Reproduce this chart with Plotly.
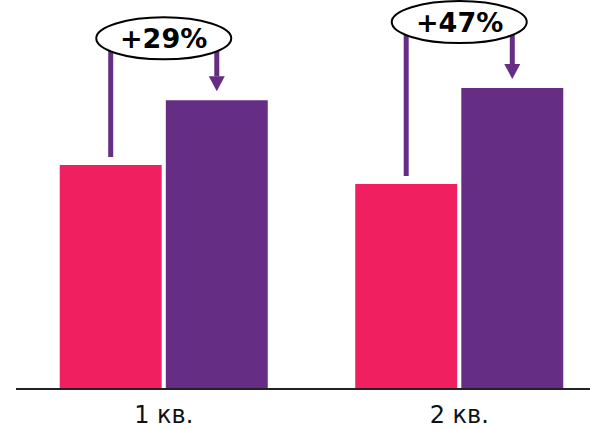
import plotly.graph_objects as go

categories = ["1 кв.", "2 кв."]
before = [100, 91.5]
after = [129, 134.5]
growth_labels = ["+29%", "+47%"]

PINK = "#F02060"
PURPLE = "#652D84"

W, H = 590, 430
ML, MB = 16, 42
X_RANGE = [-0.5, 1.4425]
Y_RANGE = [0, 174]
px_x = (W - ML) / (X_RANGE[1] - X_RANGE[0])
px_y = (H - MB) / (Y_RANGE[1] - Y_RANGE[0])

def ux(p):
    return p / px_x

def uy(p):
    return p / px_y

xs = list(range(len(categories)))
bw = 0.345

fig = go.Figure()
fig.add_trace(go.Bar(x=xs, y=before, width=bw, offset=-0.352,
                     marker=dict(color=PINK, line=dict(width=0)), showlegend=False))
fig.add_trace(go.Bar(x=xs, y=after, width=bw, offset=0.007,
                     marker=dict(color=PURPLE, line=dict(width=0)), showlegend=False))

shapes = []
annotations = []
ell_offsets = [62, 66]  # px above purple bar top to ellipse center
for i, x in enumerate(xs):
    cl = x - 0.352 + bw / 2
    cr = x + 0.007 + bw / 2
    ey = after[i] + uy(ell_offsets[i])
    eh = uy(21)
    shapes.append(dict(type="line", x0=cl, x1=cl, y0=before[i] + uy(8), y1=ey,
                       line=dict(color=PURPLE, width=5)))
    tip = after[i] + uy(9)
    base = tip + uy(15)
    shapes.append(dict(type="line", x0=cr, x1=cr, y0=ey, y1=base,
                       line=dict(color=PURPLE, width=5)))
    hw = ux(8)
    shapes.append(dict(type="path",
                       path=f"M {cr-hw},{base} L {cr+hw},{base} L {cr},{tip} Z",
                       fillcolor=PURPLE, line=dict(width=0)))
    shapes.append(dict(type="circle", x0=x - ux(67.5), x1=x + ux(67.5),
                       y0=ey - eh, y1=ey + eh, fillcolor="white",
                       line=dict(color="black", width=2)))
    annotations.append(dict(x=x, y=ey, text=f"<b>{growth_labels[i]}</b>",
                            showarrow=False, xanchor="center", yanchor="middle",
                            font=dict(family="DejaVu Sans", size=27, color="black")))

fig.update_layout(
    width=W, height=H,
    margin=dict(l=ML, r=0, t=0, b=MB),
    paper_bgcolor="white", plot_bgcolor="white",
    shapes=shapes, annotations=annotations,
    xaxis=dict(range=X_RANGE, tickvals=xs, ticktext=categories, showgrid=False,
               zeroline=False, showline=True, linecolor="#222", linewidth=2,
               ticks="", ticklabelstandoff=4,
               tickfont=dict(family="DejaVu Sans", size=24, color="#111")),
    yaxis=dict(range=Y_RANGE, visible=False, showgrid=False, zeroline=False),
    font=dict(family="DejaVu Sans"),
)

fig.write_html("out.html", config={"displayModeBar": False},
               post_script="document.body.style.margin='0';")
